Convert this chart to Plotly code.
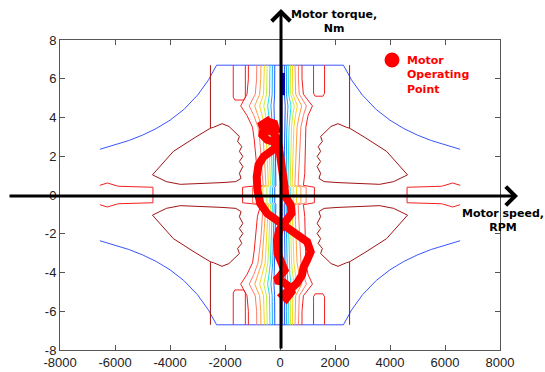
import plotly.graph_objects as go

# ---------------- data ----------------
# max-torque envelope, upper-left branch (speed RPM, torque Nm)
env_speed = [-6550, -6000, -5500, -5000, -4500, -4000, -3500, -3000, -2600, -2306]
env_torque = [2.36, 2.58, 2.81, 3.09, 3.43, 3.86, 4.41, 5.15, 5.94, 6.70]

# dark-red contour (vertical edge + lobe), upper-left quadrant
dred_speed = [-2530, -2530, -3121, -3879, -4637, -4132, -3626, -3121, -2489, -2109, -1604,
              -1414, -1477, -1351, -1477, -1351, -1477, -1389, -1541, -1477, -1857, -2109,
              -2425, -2530]
dred_torque = [6.70, 3.45, 2.94, 2.25, 1.04, 0.69, 0.55, 0.57, 0.61, 0.64, 0.69,
               0.86, 1.12, 1.47, 1.73, 1.99, 2.25, 2.50, 2.76, 3.02, 3.54, 3.68,
               3.49, 3.45]

# red band near zero torque, far left (upper half)
band_speed = [-6550, -6280, -5880, -4620, -4620]
band_torque = [0.50, 0.62, 0.45, 0.40, 0.00]

# red "finger" contours hanging from the top edge
finger_l_speed = [-1700, -1700, -1640, -1320, -1260, -1260]
finger_l_torque = [6.70, 5.05, 4.90, 4.90, 5.05, 6.70]
finger_r_speed = [1220, 1220, 1280, 1560, 1620, 1620]
finger_r_torque = [6.70, 5.25, 5.10, 5.10, 5.25, 6.70]

# inner contour lines: speed at each torque knot (upper half)
knot_torque = [6.70, 6.00, 5.20, 4.60, 4.10, 3.50, 2.90, 2.30, 1.70, 1.10, 0.50, 0.40, 0.00]
red_left = [-1150, -1150, -1200, -1430, -1200, -1000, -940, -890, -860, -820, -700, -1360, -1360]
salmon_left = [-845, -850, -900, -1120, -950, -800, -740, -700, -670, -650, -610, -1000, -1000]
orange_left = [-693, -700, -740, -920, -800, -660, -610, -580, -560, -540, -510, -780, -780]
yellow_left = [-567, -570, -600, -740, -650, -540, -500, -480, -460, -445, -420, -620, -620]
ygreen_left = [-466, -470, -490, -590, -520, -440, -405, -385, -370, -360, -345, -480, -480]
cyan_left = [-365, -365, -380, -450, -400, -350, -320, -305, -295, -285, -275, -360, -360]
lblue_left = [-277, -277, -285, -330, -300, -265, -245, -235, -228, -222, -212, -270, -270]
blue_left = [-190, -190, -195, -220, -205, -185, -175, -168, -162, -158, -150, -190, -190]
red_right = [800, 800, 850, 1180, 1020, 940, 930, 920, 910, 900, 850, 1250, 1250]
salmon_right = [671, 671, 700, 960, 850, 760, 740, 720, 700, 690, 660, 950, 950]
orange_right = [545, 545, 570, 790, 700, 620, 600, 585, 570, 560, 540, 760, 760]
yellow_right = [450, 450, 465, 630, 560, 505, 490, 475, 465, 455, 440, 600, 600]
ygreen_right = [380, 380, 390, 520, 460, 420, 405, 395, 385, 380, 370, 480, 480]
cyan_right = [300, 300, 310, 400, 360, 330, 320, 310, 305, 300, 290, 370, 370]
lblue_right = [230, 230, 235, 290, 265, 250, 240, 235, 230, 228, 222, 270, 270]
blue_right = [160, 160, 162, 190, 180, 170, 165, 162, 160, 158, 155, 185, 185]
dblue_right = [70, 70, 70, 75, 72, 70, 70, 68, 68, 66, 65, 75, 75]
dblue_blob_speed = [110, 110]
dblue_blob_torque = [6.30, 5.15]

# motor operating point trajectory
traj_speed = [-466, -213, -150, -340, -593, -656, -466, -277, -87, -24, 39, 103, 166, 191,
              393, 418, 229, -24, -112, -87, 65, 166, -24, -150, 103, 355, 418, 229, 103,
              292, 608, 798, 861, 987, 1114, 987, 671, 292, -87, -466, -719, -820, -846,
              -782, -593, -277, -87, -250, -470, -640, -600]
traj_torque = [3.80, 3.68, 3.37, 3.28, 3.37, 3.63, 3.80, 3.28, 2.85, 2.33, 1.81, 1.12, 0.43,
               -0.08, -0.52, -0.95, -1.38, -1.81, -2.33, -3.02, -3.54, -3.88, -4.23, -4.40,
               -4.49, -4.75, -5.00, -5.35, -5.18, -4.92, -4.57, -4.14, -3.71, -3.36, -2.93,
               -2.41, -2.07, -1.72, -1.38, -0.95, -0.43, 0.26, 0.95, 1.55, 1.99, 2.33, 2.50,
               2.75, 2.85, 3.10, 3.40]

x_tick_vals = [-8000, -6000, -4000, -2000, 0, 2000, 4000, 6000, 8000]
x_tick_text = ["-8000", "-6000", "-4000", "-2000", "0", "2000", "4000", "6000", "8000"]
y_tick_vals = [-8, -6, -4, -2, 0, 2, 4, 6, 8]
y_tick_text = ["-8", "-6", "-4", "-2", "0", "2", "4", "6", "8"]

# ---------------- styles ----------------
C_ENV = "#3a55ff"
C_DRED = "#a01414"
C_RED = "#f22020"
C_SALMON = "#ff7a6a"
C_ORANGE = "#ffa040"
C_YELLOW = "#ffd21e"
C_YGREEN = "#c4f03c"
C_CYAN = "#1fe0e0"
C_LBLUE = "#12a4ff"
C_BLUE = "#2258ff"
C_DBLUE = "#0000c8"

fig = go.Figure()


def add_line(xs, ys, color, width=1.0):
    fig.add_trace(go.Scatter(x=list(xs), y=list(ys), mode="lines",
                             line=dict(color=color, width=width),
                             hoverinfo="skip", showlegend=False))


def neg(v):
    return [-a for a in v]


# envelope (upper and lower)
env_x = env_speed + neg(env_speed[::-1])
env_y = env_torque + env_torque[::-1]
add_line(env_x, env_y, C_ENV)
add_line(env_x, neg(env_y), C_ENV)

# dark red lobes, four quadrants
for sx in (1, -1):
    for sy in (1, -1):
        add_line([sx * a for a in dred_speed], [sy * b for b in dred_torque], C_DRED)

# red side bands
band_x = band_speed + band_speed[::-1]
band_y = band_torque + neg(band_torque[::-1])
add_line(band_x, band_y, C_RED)
add_line(neg(band_x), band_y, C_RED)

# fingers (top and bottom)
add_line(finger_l_speed, finger_l_torque, C_RED)
add_line(finger_l_speed, neg(finger_l_torque), C_RED)
add_line(finger_r_speed, finger_r_torque, C_RED)
add_line(finger_r_speed, neg(finger_r_torque), C_RED)

# inner contour lines spanning the full torque range
full_y = knot_torque + neg(knot_torque[::-1])
inner = [
    (red_left, C_RED), (salmon_left, C_SALMON), (orange_left, C_ORANGE),
    (yellow_left, C_YELLOW), (ygreen_left, C_YGREEN), (cyan_left, C_CYAN),
    (lblue_left, C_LBLUE), (blue_left, C_BLUE),
    (red_right, C_RED), (salmon_right, C_SALMON), (orange_right, C_ORANGE),
    (yellow_right, C_YELLOW), (ygreen_right, C_YGREEN), (cyan_right, C_CYAN),
    (lblue_right, C_LBLUE), (blue_right, C_BLUE), (dblue_right, C_DBLUE),
]
for xs, col in inner:
    add_line(xs + xs[::-1], full_y, col)
add_line(dblue_blob_speed, dblue_blob_torque, C_DBLUE, width=4)

# trajectory
add_line(traj_speed, traj_torque, "#ff0000", width=8)

# ---------------- layout ----------------
L, R, T, B = 60, 45, 40, 22
PW, PH = 545 - L - R, 372 - T - B


def px(p):
    return (p - L) / PW


def py(q):
    return (372 - B - q) / PH


font_fam = "Liberation Sans, Arial, Helvetica, sans-serif"
label_fam = "DejaVu Sans, Verdana, sans-serif"
annotations = [
    # horizontal arrow
    dict(x=px(518), y=py(196), xref="paper", yref="paper", ax=-510, ay=0,
         axref="pixel", ayref="pixel", showarrow=True, arrowhead=4, arrowsize=1.2,
         arrowwidth=3, arrowcolor="black", text=""),
    # vertical arrow
    dict(x=px(281), y=py(9), xref="paper", yref="paper", ax=0, ay=341,
         axref="pixel", ayref="pixel", showarrow=True, arrowhead=4, arrowsize=1.2,
         arrowwidth=3, arrowcolor="black", text=""),
    dict(x=px(334), y=py(21), xref="paper", yref="paper", showarrow=False,
         text="<b>Motor torque,<br>Nm</b>", xanchor="center", yanchor="middle",
         font=dict(family=label_fam, size=11, color="black")),
    dict(x=px(503), y=py(220.5), xref="paper", yref="paper", showarrow=False,
         text="<b>Motor speed,<br>RPM</b>", xanchor="center", yanchor="middle",
         font=dict(family=label_fam, size=11, color="black")),
    dict(x=px(405), y=py(74.5), xref="paper", yref="paper", showarrow=False,
         text="<b>Motor<br>Operating<br>Point</b>", xanchor="left", yanchor="middle",
         align="left", font=dict(family=label_fam, size=11, color="#ff0000")),
]
shapes = [
    dict(type="circle", xref="paper", yref="paper",
         x0=px(384.5), x1=px(399.5), y0=py(67.5), y1=py(52.5),
         fillcolor="#ff0000", line=dict(color="#ff0000", width=0)),
]

axis_common = dict(showgrid=False, zeroline=False, showline=True, linecolor="#555",
                   linewidth=1, ticks="inside", ticklen=5, tickcolor="#555",
                   mirror="ticks", automargin=False,
                   tickfont=dict(family=font_fam, size=13, color="#222"))

fig.update_layout(
    template="none",
    width=545, height=372,
    margin=dict(l=L, r=R, t=T, b=B, pad=0),
    paper_bgcolor="white", plot_bgcolor="white",
    xaxis=dict(range=[-8000, 8000], tickvals=x_tick_vals, ticktext=x_tick_text, **axis_common),
    yaxis=dict(range=[-8, 8], tickvals=y_tick_vals, ticktext=y_tick_text, **axis_common),
    annotations=annotations, shapes=shapes,
)

fig.write_html("out.html")
